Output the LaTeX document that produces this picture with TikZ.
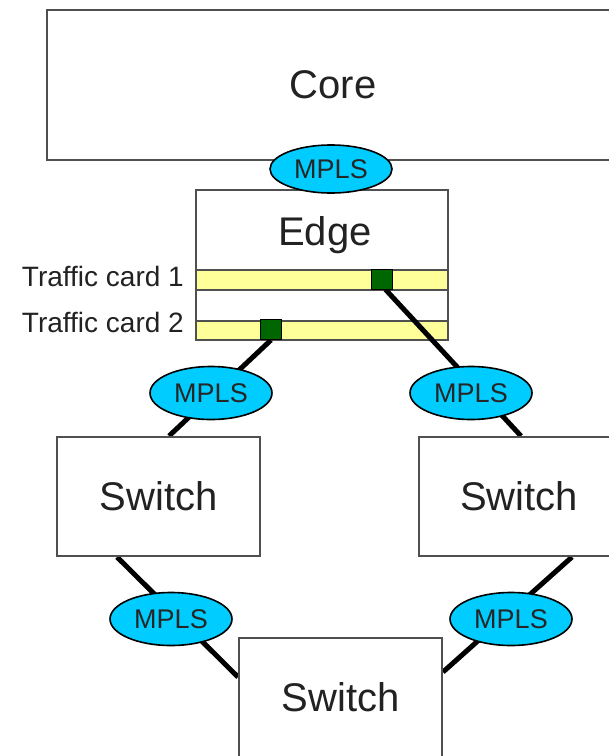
\documentclass[tikz,border=0pt]{standalone}
\usepackage{fontspec}
\setmainfont{Liberation Sans}
\usetikzlibrary{shapes.geometric,calc}
\definecolor{boxline}{HTML}{505050}
\definecolor{textgray}{HTML}{222222}
\definecolor{mplscyan}{HTML}{00CCFF}
\definecolor{cardyellow}{HTML}{FFFF99}
\definecolor{portgreen}{HTML}{006600}
\pgfdeclarelayer{lowest}
\pgfdeclarelayer{wires}
\pgfsetlayers{lowest,wires,main}
\begin{document}
\begin{tikzpicture}[x=1pt,y=-1pt,
  box/.style={draw=boxline,line width=2pt,fill=white,inner sep=0pt,
    text=textgray,font=\fontsize{40}{48}\selectfont},
  bigtext/.style={inner sep=0pt,text=textgray,font=\fontsize{40}{48}\selectfont},
  mpls/.style={ellipse,draw=black,line width=1.6pt,fill=mplscyan,
    minimum width=122pt,minimum height=53pt,inner sep=0pt,
    text=black!85,font=\fontsize{27}{30}\selectfont},
  card/.style={draw=boxline,line width=1.5pt,fill=cardyellow,inner sep=0pt,
    minimum width=252pt,anchor=north west},
  port/.style={draw=black,line width=1pt,fill=portgreen,inner sep=0pt,
    minimum width=21pt,minimum height=20pt},
  cardlabel/.style={anchor=east,inner sep=0pt,text=textgray,
    font=\fontsize{28}{30}\selectfont},
  link/.style={line width=5pt,black}]
\clip (0,0) rectangle (609,756);

% upper tier: core and edge router with its two traffic cards
\begin{pgfonlayer}{lowest}
  \node[box,minimum width=572pt,minimum height=150pt] (core) at (333,85) {Core};
  \node[box,minimum width=252pt,minimum height=150pt,anchor=north west] (edge) at (195,189) {};
  \node[bigtext] (edgetext) at (325,235) {Edge};
  \node[card,minimum height=20pt] (card1) at (195,269) {};
  \node[card,minimum height=19pt] (card2) at (195,320) {};
\end{pgfonlayer}
\node[cardlabel] (card1label) at (184,276) {Traffic card 1};
\node[cardlabel] (card2label) at (184,322) {Traffic card 2};
\node[port] (port1) at (381.5,279) {};
\node[port] (port2) at (271,329.5) {};

% access switches
\node[box,minimum width=203pt,minimum height=119pt] (lsw) at (158.5,496.5) {Switch};
\node[box,minimum width=200pt,minimum height=119pt] (rsw) at (519,496.5) {Switch};
\node[box,minimum width=203pt,minimum height=119pt,anchor=north west] (bsw) at (238,637) {Switch};

% attachment points on the boxes
\coordinate (p1out) at ($(port1.south)+(4,0)$);
\coordinate (lswtop) at ($(lsw.north west)+(113,0)$);
\coordinate (rswtop) at ($(rsw.north west)+(103,0)$);
\coordinate (lswbot) at ($(lsw.south west)+(61,0)$);
\coordinate (rswbot) at ($(rsw.south west)+(154,0)$);
\coordinate (bswleft) at ($(bsw.north west)+(0,40)$);
\coordinate (bswright) at ($(bsw.north east)+(0,35)$);

% links
\begin{pgfonlayer}{wires}
  \draw[link] (port2.south) -- (lswtop);
  \draw[link] (p1out) -- (rswtop);
  \draw[link] (lswbot) -- (bswleft);
  \draw[link] (rswbot) -- (bswright);
\end{pgfonlayer}

% MPLS tags on the links
\node[mpls,minimum height=48pt] (mplscore) at (331,169) {MPLS};
\node[mpls] (mplsl) at (211,393) {MPLS};
\node[mpls] (mplsr) at (471,393) {MPLS};
\node[mpls] (mplsbl) at (171,619) {MPLS};
\node[mpls] (mplsbr) at (511,619) {MPLS};
\end{tikzpicture}
\end{document}
